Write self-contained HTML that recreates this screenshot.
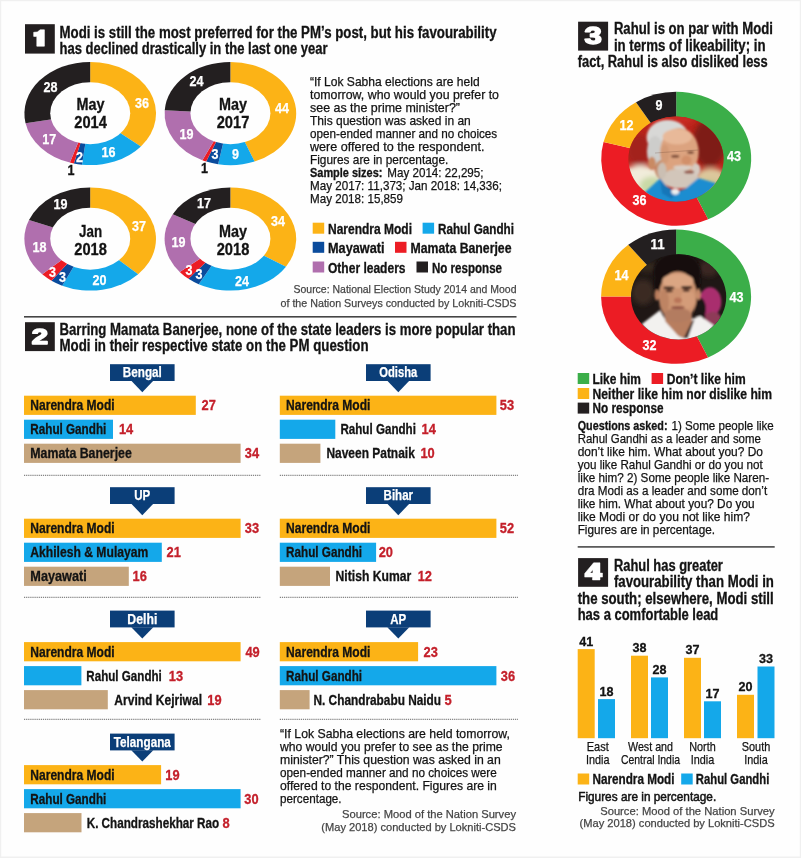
<!DOCTYPE html><html><head><meta charset="utf-8"><title>Mood of the Nation</title>
<style>html,body{margin:0;padding:0;background:#fefefe}svg{display:block;will-change:transform}text{font-family:"Liberation Sans",sans-serif}</style></head><body>
<svg width="801" height="858" viewBox="0 0 801 858">
<rect x="0.0" y="0.0" width="801.0" height="858.0" fill="#f0f0f0"/>
<rect x="1.2" y="1.2" width="798.6" height="855.3" fill="#fefefe"/>
<rect x="25.0" y="24.2" width="29.8" height="29.4" fill="#231F20"/>
<polygon points="33.7,32.3 37.3,32.0 40.2,29.8 44.4,29.8 44.4,46.2 36.8,46.2 36.8,36.4 33.7,36.4" fill="#fff" stroke="#fff" stroke-width="0.6" stroke-linejoin="round"/>
<text x="59.5" y="37.7" font-size="15.6" fill="#131313" font-weight="bold" stroke="#131313" stroke-width="0.3" textLength="437.0" lengthAdjust="spacingAndGlyphs">Modi is still the most preferred for the PM’s post, but his favourability</text>
<text x="59.5" y="53.5" font-size="15.6" fill="#131313" font-weight="bold" stroke="#131313" stroke-width="0.3" textLength="268.0" lengthAdjust="spacingAndGlyphs">has declined drastically in the last one year</text>
<g transform="translate(90.2,113.5) scale(65.80,51.60)">
<path d="M0 0L0.0000 -1.0000A1 1 0 0 1 0.7705 0.6374Z" fill="#FCB316"/>
<path d="M0 0L0.7705 0.6374A1 1 0 0 1 -0.1253 0.9921Z" fill="#14A8EA"/>
<path d="M0 0L-0.1253 0.9921A1 1 0 0 1 -0.2487 0.9686Z" fill="#0A4B9C"/>
<path d="M0 0L-0.2487 0.9686A1 1 0 0 1 -0.3090 0.9511Z" fill="#EC1C24"/>
<path d="M0 0L-0.3090 0.9511A1 1 0 0 1 -0.9823 0.1874Z" fill="#B06FAE"/>
<path d="M0 0L-0.9823 0.1874A1 1 0 0 1 -0.0000 -1.0000Z" fill="#231F20"/>
</g>
<ellipse cx="90.2" cy="113.2" rx="40" ry="31" fill="#fefefe"/>
<g transform="translate(230.4,113.5) scale(65.80,51.60)">
<path d="M0 0L0.0000 -1.0000A1 1 0 0 1 0.3681 0.9298Z" fill="#FCB316"/>
<path d="M0 0L0.3681 0.9298A1 1 0 0 1 -0.1874 0.9823Z" fill="#14A8EA"/>
<path d="M0 0L-0.1874 0.9823A1 1 0 0 1 -0.3681 0.9298Z" fill="#0A4B9C"/>
<path d="M0 0L-0.3681 0.9298A1 1 0 0 1 -0.4258 0.9048Z" fill="#EC1C24"/>
<path d="M0 0L-0.4258 0.9048A1 1 0 0 1 -0.9980 -0.0628Z" fill="#B06FAE"/>
<path d="M0 0L-0.9980 -0.0628A1 1 0 0 1 -0.0000 -1.0000Z" fill="#231F20"/>
</g>
<ellipse cx="230.4" cy="113.2" rx="40" ry="31" fill="#fefefe"/>
<g transform="translate(90.2,239.0) scale(65.80,51.60)">
<path d="M0 0L0.0000 -1.0000A1 1 0 0 1 0.7290 0.6845Z" fill="#FCB316"/>
<path d="M0 0L0.7290 0.6845A1 1 0 0 1 -0.4258 0.9048Z" fill="#14A8EA"/>
<path d="M0 0L-0.4258 0.9048A1 1 0 0 1 -0.5878 0.8090Z" fill="#0A4B9C"/>
<path d="M0 0L-0.5878 0.8090A1 1 0 0 1 -0.7290 0.6845Z" fill="#EC1C24"/>
<path d="M0 0L-0.7290 0.6845A1 1 0 0 1 -0.9298 -0.3681Z" fill="#B06FAE"/>
<path d="M0 0L-0.9298 -0.3681A1 1 0 0 1 -0.0000 -1.0000Z" fill="#231F20"/>
</g>
<ellipse cx="90.2" cy="238.7" rx="40" ry="31" fill="#fefefe"/>
<g transform="translate(230.4,239.0) scale(65.80,51.60)">
<path d="M0 0L0.0000 -1.0000A1 1 0 0 1 0.8443 0.5358Z" fill="#FCB316"/>
<path d="M0 0L0.8443 0.5358A1 1 0 0 1 -0.4818 0.8763Z" fill="#14A8EA"/>
<path d="M0 0L-0.4818 0.8763A1 1 0 0 1 -0.6374 0.7705Z" fill="#0A4B9C"/>
<path d="M0 0L-0.6374 0.7705A1 1 0 0 1 -0.7705 0.6374Z" fill="#EC1C24"/>
<path d="M0 0L-0.7705 0.6374A1 1 0 0 1 -0.8763 -0.4818Z" fill="#B06FAE"/>
<path d="M0 0L-0.8763 -0.4818A1 1 0 0 1 -0.0000 -1.0000Z" fill="#231F20"/>
</g>
<ellipse cx="230.4" cy="238.7" rx="40" ry="31" fill="#fefefe"/>
<text x="50.6" y="91.7" font-size="13.9" fill="#fff" font-weight="bold" stroke="#fff" stroke-width="0.25" text-anchor="middle" textLength="14.0" lengthAdjust="spacingAndGlyphs">28</text>
<text x="142.0" y="108.3" font-size="13.9" fill="#fff" font-weight="bold" stroke="#fff" stroke-width="0.25" text-anchor="middle" textLength="14.0" lengthAdjust="spacingAndGlyphs">36</text>
<text x="108.4" y="156.7" font-size="13.9" fill="#fff" font-weight="bold" stroke="#fff" stroke-width="0.25" text-anchor="middle" textLength="14.0" lengthAdjust="spacingAndGlyphs">16</text>
<text x="79.6" y="161.7" font-size="13.9" fill="#fff" font-weight="bold" stroke="#fff" stroke-width="0.25" text-anchor="middle" textLength="7.0" lengthAdjust="spacingAndGlyphs">2</text>
<text x="71.0" y="175.3" font-size="13.9" fill="#131313" font-weight="bold" stroke="#131313" stroke-width="0.3" text-anchor="middle" textLength="7.0" lengthAdjust="spacingAndGlyphs">1</text>
<text x="49.2" y="143.7" font-size="13.9" fill="#fff" font-weight="bold" stroke="#fff" stroke-width="0.25" text-anchor="middle" textLength="14.0" lengthAdjust="spacingAndGlyphs">17</text>
<text x="196.4" y="86.3" font-size="13.9" fill="#fff" font-weight="bold" stroke="#fff" stroke-width="0.25" text-anchor="middle" textLength="14.0" lengthAdjust="spacingAndGlyphs">24</text>
<text x="282.0" y="112.7" font-size="13.9" fill="#fff" font-weight="bold" stroke="#fff" stroke-width="0.25" text-anchor="middle" textLength="14.0" lengthAdjust="spacingAndGlyphs">44</text>
<text x="235.6" y="159.1" font-size="13.9" fill="#fff" font-weight="bold" stroke="#fff" stroke-width="0.25" text-anchor="middle" textLength="7.0" lengthAdjust="spacingAndGlyphs">9</text>
<text x="215.0" y="159.1" font-size="13.9" fill="#fff" font-weight="bold" stroke="#fff" stroke-width="0.25" text-anchor="middle" textLength="7.0" lengthAdjust="spacingAndGlyphs">3</text>
<text x="204.4" y="173.1" font-size="13.9" fill="#131313" font-weight="bold" stroke="#131313" stroke-width="0.3" text-anchor="middle" textLength="7.0" lengthAdjust="spacingAndGlyphs">1</text>
<text x="186.6" y="139.1" font-size="13.9" fill="#fff" font-weight="bold" stroke="#fff" stroke-width="0.25" text-anchor="middle" textLength="14.0" lengthAdjust="spacingAndGlyphs">19</text>
<text x="60.4" y="209.3" font-size="13.9" fill="#fff" font-weight="bold" stroke="#fff" stroke-width="0.25" text-anchor="middle" textLength="14.0" lengthAdjust="spacingAndGlyphs">19</text>
<text x="139.0" y="231.3" font-size="13.9" fill="#fff" font-weight="bold" stroke="#fff" stroke-width="0.25" text-anchor="middle" textLength="14.0" lengthAdjust="spacingAndGlyphs">37</text>
<text x="99.6" y="285.3" font-size="13.9" fill="#fff" font-weight="bold" stroke="#fff" stroke-width="0.25" text-anchor="middle" textLength="14.0" lengthAdjust="spacingAndGlyphs">20</text>
<text x="62.4" y="281.7" font-size="13.9" fill="#fff" font-weight="bold" stroke="#fff" stroke-width="0.25" text-anchor="middle" textLength="7.0" lengthAdjust="spacingAndGlyphs">3</text>
<text x="52.6" y="277.1" font-size="13.9" fill="#fff" font-weight="bold" stroke="#fff" stroke-width="0.25" text-anchor="middle" textLength="7.0" lengthAdjust="spacingAndGlyphs">3</text>
<text x="39.6" y="252.1" font-size="13.9" fill="#fff" font-weight="bold" stroke="#fff" stroke-width="0.25" text-anchor="middle" textLength="14.0" lengthAdjust="spacingAndGlyphs">18</text>
<text x="204.0" y="207.7" font-size="13.9" fill="#fff" font-weight="bold" stroke="#fff" stroke-width="0.25" text-anchor="middle" textLength="14.0" lengthAdjust="spacingAndGlyphs">17</text>
<text x="278.0" y="226.3" font-size="13.9" fill="#fff" font-weight="bold" stroke="#fff" stroke-width="0.25" text-anchor="middle" textLength="14.0" lengthAdjust="spacingAndGlyphs">34</text>
<text x="242.0" y="285.7" font-size="13.9" fill="#fff" font-weight="bold" stroke="#fff" stroke-width="0.25" text-anchor="middle" textLength="14.0" lengthAdjust="spacingAndGlyphs">24</text>
<text x="199.0" y="279.1" font-size="13.9" fill="#fff" font-weight="bold" stroke="#fff" stroke-width="0.25" text-anchor="middle" textLength="7.0" lengthAdjust="spacingAndGlyphs">3</text>
<text x="189.0" y="275.1" font-size="13.9" fill="#fff" font-weight="bold" stroke="#fff" stroke-width="0.25" text-anchor="middle" textLength="7.0" lengthAdjust="spacingAndGlyphs">3</text>
<text x="178.6" y="247.3" font-size="13.9" fill="#fff" font-weight="bold" stroke="#fff" stroke-width="0.25" text-anchor="middle" textLength="14.0" lengthAdjust="spacingAndGlyphs">19</text>
<text x="90.6" y="110.0" font-size="16" fill="#131313" font-weight="bold" stroke="#131313" stroke-width="0.3" text-anchor="middle" textLength="28.0" lengthAdjust="spacingAndGlyphs">May</text>
<text x="90.6" y="128.0" font-size="16" fill="#131313" font-weight="bold" stroke="#131313" stroke-width="0.3" text-anchor="middle" textLength="32.6" lengthAdjust="spacingAndGlyphs">2014</text>
<text x="233.0" y="110.0" font-size="16" fill="#131313" font-weight="bold" stroke="#131313" stroke-width="0.3" text-anchor="middle" textLength="28.0" lengthAdjust="spacingAndGlyphs">May</text>
<text x="233.0" y="128.0" font-size="16" fill="#131313" font-weight="bold" stroke="#131313" stroke-width="0.3" text-anchor="middle" textLength="32.6" lengthAdjust="spacingAndGlyphs">2017</text>
<text x="90.6" y="237.2" font-size="16" fill="#131313" font-weight="bold" stroke="#131313" stroke-width="0.3" text-anchor="middle" textLength="23.0" lengthAdjust="spacingAndGlyphs">Jan</text>
<text x="90.6" y="255.2" font-size="16" fill="#131313" font-weight="bold" stroke="#131313" stroke-width="0.3" text-anchor="middle" textLength="32.6" lengthAdjust="spacingAndGlyphs">2018</text>
<text x="233.0" y="237.2" font-size="16" fill="#131313" font-weight="bold" stroke="#131313" stroke-width="0.3" text-anchor="middle" textLength="28.0" lengthAdjust="spacingAndGlyphs">May</text>
<text x="233.0" y="255.2" font-size="16" fill="#131313" font-weight="bold" stroke="#131313" stroke-width="0.3" text-anchor="middle" textLength="32.6" lengthAdjust="spacingAndGlyphs">2018</text>
<text x="310.0" y="85.6" font-size="12.6" fill="#131313" stroke="#131313" stroke-width="0.25" textLength="169.6" lengthAdjust="spacingAndGlyphs">“If Lok Sabha elections are held</text>
<text x="310.0" y="98.6" font-size="12.6" fill="#131313" stroke="#131313" stroke-width="0.25" textLength="189.0" lengthAdjust="spacingAndGlyphs">tomorrow, who would you prefer to</text>
<text x="310.0" y="111.7" font-size="12.6" fill="#131313" stroke="#131313" stroke-width="0.25" textLength="150.0" lengthAdjust="spacingAndGlyphs">see as the prime minister?”</text>
<text x="310.0" y="124.8" font-size="12.6" fill="#131313" stroke="#131313" stroke-width="0.25" textLength="160.8" lengthAdjust="spacingAndGlyphs">This question was asked in an</text>
<text x="310.0" y="137.8" font-size="12.6" fill="#131313" stroke="#131313" stroke-width="0.25" textLength="187.2" lengthAdjust="spacingAndGlyphs">open-ended manner and no choices</text>
<text x="310.0" y="150.8" font-size="12.6" fill="#131313" stroke="#131313" stroke-width="0.25" textLength="174.6" lengthAdjust="spacingAndGlyphs">were offered to the respondent.</text>
<text x="310.0" y="163.9" font-size="12.6" fill="#131313" stroke="#131313" stroke-width="0.25" textLength="138.3" lengthAdjust="spacingAndGlyphs">Figures are in percentage.</text>
<text x="310.0" y="177.0" font-size="12.6" fill="#131313" font-weight="bold" stroke="#131313" stroke-width="0.3" textLength="72.4" lengthAdjust="spacingAndGlyphs">Sample sizes:</text>
<text x="387.3" y="177.0" font-size="12.6" fill="#131313" stroke="#131313" stroke-width="0.25" textLength="96.2" lengthAdjust="spacingAndGlyphs">May 2014: 22,295;</text>
<text x="310.0" y="190.0" font-size="12.6" fill="#131313" stroke="#131313" stroke-width="0.25" textLength="192.0" lengthAdjust="spacingAndGlyphs">May 2017: 11,373; Jan 2018: 14,336;</text>
<text x="310.0" y="203.1" font-size="12.6" fill="#131313" stroke="#131313" stroke-width="0.25" textLength="93.0" lengthAdjust="spacingAndGlyphs">May 2018: 15,859</text>
<rect x="312.7" y="222.7" width="11.5" height="11.0" fill="#FCB316"/>
<text x="328.0" y="233.8" font-size="13.8" fill="#131313" font-weight="bold" stroke="#131313" stroke-width="0.3" textLength="84.0" lengthAdjust="spacingAndGlyphs">Narendra Modi</text>
<rect x="422.6" y="222.7" width="11.5" height="11.0" fill="#14A8EA"/>
<text x="438.0" y="233.8" font-size="13.8" fill="#131313" font-weight="bold" stroke="#131313" stroke-width="0.3" textLength="76.0" lengthAdjust="spacingAndGlyphs">Rahul Gandhi</text>
<rect x="312.7" y="241.8" width="11.5" height="11.0" fill="#0A4B9C"/>
<text x="328.0" y="252.9" font-size="13.8" fill="#131313" font-weight="bold" stroke="#131313" stroke-width="0.3" textLength="56.5" lengthAdjust="spacingAndGlyphs">Mayawati</text>
<rect x="395.0" y="241.8" width="11.5" height="11.0" fill="#EC1C24"/>
<text x="410.5" y="252.9" font-size="13.8" fill="#131313" font-weight="bold" stroke="#131313" stroke-width="0.3" textLength="101.0" lengthAdjust="spacingAndGlyphs">Mamata Banerjee</text>
<rect x="312.7" y="261.5" width="11.5" height="11.0" fill="#B06FAE"/>
<text x="328.0" y="272.6" font-size="13.8" fill="#131313" font-weight="bold" stroke="#131313" stroke-width="0.3" textLength="77.5" lengthAdjust="spacingAndGlyphs">Other leaders</text>
<rect x="416.5" y="261.5" width="11.5" height="11.0" fill="#231F20"/>
<text x="432.0" y="272.6" font-size="13.8" fill="#131313" font-weight="bold" stroke="#131313" stroke-width="0.3" textLength="70.0" lengthAdjust="spacingAndGlyphs">No response</text>
<text x="516.5" y="293.0" font-size="11.6" fill="#454545" stroke="#454545" stroke-width="0.25" text-anchor="end" textLength="223.0" lengthAdjust="spacingAndGlyphs">Source: National Election Study 2014 and Mood</text>
<text x="516.5" y="306.5" font-size="11.6" fill="#454545" stroke="#454545" stroke-width="0.25" text-anchor="end" textLength="236.0" lengthAdjust="spacingAndGlyphs">of the Nation Surveys conducted by Lokniti-CSDS</text>
<rect x="24.0" y="316.0" width="492.5" height="1.6" fill="#454545"/>
<rect x="25.0" y="322.2" width="29.8" height="28.9" fill="#231F20"/>
<text x="39.9" y="343.9" font-size="21.3" fill="#fff" font-weight="bold" text-anchor="middle" textLength="16.3" lengthAdjust="spacingAndGlyphs" stroke="#fff" stroke-width="1.5" stroke-linejoin="round">2</text>
<text x="59.5" y="334.6" font-size="15.6" fill="#131313" font-weight="bold" stroke="#131313" stroke-width="0.3" textLength="456.0" lengthAdjust="spacingAndGlyphs">Barring Mamata Banerjee, none of the state leaders is more popular than</text>
<text x="59.5" y="350.8" font-size="15.6" fill="#131313" font-weight="bold" stroke="#131313" stroke-width="0.3" textLength="309.0" lengthAdjust="spacingAndGlyphs">Modi in their respective state on the PM question</text>
<rect x="110.0" y="364.2" width="64.6" height="16.8" fill="#0B3E78"/>
<path d="M131.3 380.8L153.3 380.8L142.3 392.2Z" fill="#0B3E78"/>
<text x="142.3" y="377.1" font-size="14.2" fill="#fff" font-weight="bold" stroke="#fff" stroke-width="0.25" text-anchor="middle" textLength="39.0" lengthAdjust="spacingAndGlyphs">Bengal</text>
<rect x="24.0" y="395.7" width="171.8" height="19.2" fill="#FCB316"/>
<text x="30.3" y="410.2" font-size="14.2" fill="#131313" font-weight="bold" stroke="#131313" stroke-width="0.3" textLength="84.3" lengthAdjust="spacingAndGlyphs">Narendra Modi</text>
<text x="201.6" y="410.4" font-size="14.8" fill="#C4202B" font-weight="bold" stroke="#C4202B" stroke-width="0.3" textLength="14.3" lengthAdjust="spacingAndGlyphs">27</text>
<rect x="24.0" y="419.7" width="89.0" height="19.2" fill="#14A8EA"/>
<text x="30.3" y="434.2" font-size="14.2" fill="#131313" font-weight="bold" stroke="#131313" stroke-width="0.3" textLength="76.0" lengthAdjust="spacingAndGlyphs">Rahul Gandhi</text>
<text x="118.9" y="434.4" font-size="14.8" fill="#C4202B" font-weight="bold" stroke="#C4202B" stroke-width="0.3" textLength="14.3" lengthAdjust="spacingAndGlyphs">14</text>
<rect x="24.0" y="443.7" width="216.6" height="19.2" fill="#C5A47C"/>
<text x="30.3" y="458.2" font-size="14.2" fill="#131313" font-weight="bold" stroke="#131313" stroke-width="0.3" textLength="101.5" lengthAdjust="spacingAndGlyphs">Mamata Banerjee</text>
<text x="244.8" y="458.4" font-size="14.8" fill="#C4202B" font-weight="bold" stroke="#C4202B" stroke-width="0.3" textLength="14.3" lengthAdjust="spacingAndGlyphs">34</text>
<rect x="110.0" y="487.2" width="64.6" height="16.8" fill="#0B3E78"/>
<path d="M131.3 503.8L153.3 503.8L142.3 515.2Z" fill="#0B3E78"/>
<text x="142.3" y="500.1" font-size="14.2" fill="#fff" font-weight="bold" stroke="#fff" stroke-width="0.25" text-anchor="middle" textLength="16.0" lengthAdjust="spacingAndGlyphs">UP</text>
<rect x="24.0" y="518.7" width="216.6" height="19.2" fill="#FCB316"/>
<text x="30.3" y="533.2" font-size="14.2" fill="#131313" font-weight="bold" stroke="#131313" stroke-width="0.3" textLength="84.3" lengthAdjust="spacingAndGlyphs">Narendra Modi</text>
<text x="244.8" y="533.4" font-size="14.8" fill="#C4202B" font-weight="bold" stroke="#C4202B" stroke-width="0.3" textLength="14.3" lengthAdjust="spacingAndGlyphs">33</text>
<rect x="24.0" y="542.7" width="137.8" height="19.2" fill="#14A8EA"/>
<text x="30.3" y="557.2" font-size="14.2" fill="#131313" font-weight="bold" stroke="#131313" stroke-width="0.3" textLength="118.0" lengthAdjust="spacingAndGlyphs">Akhilesh &amp; Mulayam</text>
<text x="166.6" y="557.4" font-size="14.8" fill="#C4202B" font-weight="bold" stroke="#C4202B" stroke-width="0.3" textLength="14.3" lengthAdjust="spacingAndGlyphs">21</text>
<rect x="24.0" y="566.7" width="104.8" height="19.2" fill="#C5A47C"/>
<text x="30.3" y="581.2" font-size="14.2" fill="#131313" font-weight="bold" stroke="#131313" stroke-width="0.3" textLength="56.5" lengthAdjust="spacingAndGlyphs">Mayawati</text>
<text x="132.5" y="581.4" font-size="14.8" fill="#C4202B" font-weight="bold" stroke="#C4202B" stroke-width="0.3" textLength="14.3" lengthAdjust="spacingAndGlyphs">16</text>
<rect x="110.0" y="610.6" width="64.6" height="16.8" fill="#0B3E78"/>
<path d="M131.3 627.2L153.3 627.2L142.3 638.6Z" fill="#0B3E78"/>
<text x="142.3" y="623.5" font-size="14.2" fill="#fff" font-weight="bold" stroke="#fff" stroke-width="0.25" text-anchor="middle" textLength="30.0" lengthAdjust="spacingAndGlyphs">Delhi</text>
<rect x="24.0" y="642.1" width="216.6" height="19.2" fill="#FCB316"/>
<text x="30.3" y="656.6" font-size="14.2" fill="#131313" font-weight="bold" stroke="#131313" stroke-width="0.3" textLength="84.3" lengthAdjust="spacingAndGlyphs">Narendra Modi</text>
<text x="245.4" y="656.8" font-size="14.8" fill="#C4202B" font-weight="bold" stroke="#C4202B" stroke-width="0.3" textLength="14.3" lengthAdjust="spacingAndGlyphs">49</text>
<rect x="24.0" y="666.1" width="57.4" height="19.2" fill="#14A8EA"/>
<text x="86.3" y="680.6" font-size="14.2" fill="#131313" font-weight="bold" stroke="#131313" stroke-width="0.3" textLength="75.5" lengthAdjust="spacingAndGlyphs">Rahul Gandhi</text>
<text x="168.8" y="680.8" font-size="14.8" fill="#C4202B" font-weight="bold" stroke="#C4202B" stroke-width="0.3" textLength="14.3" lengthAdjust="spacingAndGlyphs">13</text>
<rect x="24.0" y="690.1" width="83.8" height="19.2" fill="#C5A47C"/>
<text x="114.3" y="704.6" font-size="14.2" fill="#131313" font-weight="bold" stroke="#131313" stroke-width="0.3" textLength="87.7" lengthAdjust="spacingAndGlyphs">Arvind Kejriwal</text>
<text x="207.3" y="704.8" font-size="14.8" fill="#C4202B" font-weight="bold" stroke="#C4202B" stroke-width="0.3" textLength="14.3" lengthAdjust="spacingAndGlyphs">19</text>
<rect x="110.0" y="733.6" width="64.6" height="16.8" fill="#0B3E78"/>
<path d="M131.3 750.2L153.3 750.2L142.3 761.6Z" fill="#0B3E78"/>
<text x="142.3" y="746.5" font-size="14.2" fill="#fff" font-weight="bold" stroke="#fff" stroke-width="0.25" text-anchor="middle" textLength="57.0" lengthAdjust="spacingAndGlyphs">Telangana</text>
<rect x="24.0" y="765.1" width="137.1" height="19.2" fill="#FCB316"/>
<text x="30.3" y="779.6" font-size="14.2" fill="#131313" font-weight="bold" stroke="#131313" stroke-width="0.3" textLength="84.3" lengthAdjust="spacingAndGlyphs">Narendra Modi</text>
<text x="165.3" y="779.8" font-size="14.8" fill="#C4202B" font-weight="bold" stroke="#C4202B" stroke-width="0.3" textLength="14.3" lengthAdjust="spacingAndGlyphs">19</text>
<rect x="24.0" y="789.1" width="216.6" height="19.2" fill="#14A8EA"/>
<text x="30.3" y="803.6" font-size="14.2" fill="#131313" font-weight="bold" stroke="#131313" stroke-width="0.3" textLength="76.0" lengthAdjust="spacingAndGlyphs">Rahul Gandhi</text>
<text x="244.3" y="803.8" font-size="14.8" fill="#C4202B" font-weight="bold" stroke="#C4202B" stroke-width="0.3" textLength="14.3" lengthAdjust="spacingAndGlyphs">30</text>
<rect x="24.0" y="813.1" width="57.5" height="19.2" fill="#C5A47C"/>
<text x="86.7" y="827.6" font-size="14.2" fill="#131313" font-weight="bold" stroke="#131313" stroke-width="0.3" textLength="132.5" lengthAdjust="spacingAndGlyphs">K. Chandrashekhar Rao</text>
<text x="222.6" y="827.8" font-size="14.8" fill="#C4202B" font-weight="bold" stroke="#C4202B" stroke-width="0.3" textLength="7.2" lengthAdjust="spacingAndGlyphs">8</text>
<rect x="366.0" y="364.2" width="64.6" height="16.8" fill="#0B3E78"/>
<path d="M387.3 380.8L409.3 380.8L398.3 392.2Z" fill="#0B3E78"/>
<text x="398.3" y="377.1" font-size="14.2" fill="#fff" font-weight="bold" stroke="#fff" stroke-width="0.25" text-anchor="middle" textLength="38.0" lengthAdjust="spacingAndGlyphs">Odisha</text>
<rect x="279.8" y="395.7" width="216.6" height="19.2" fill="#FCB316"/>
<text x="286.1" y="410.2" font-size="14.2" fill="#131313" font-weight="bold" stroke="#131313" stroke-width="0.3" textLength="84.3" lengthAdjust="spacingAndGlyphs">Narendra Modi</text>
<text x="499.8" y="410.4" font-size="14.8" fill="#C4202B" font-weight="bold" stroke="#C4202B" stroke-width="0.3" textLength="14.3" lengthAdjust="spacingAndGlyphs">53</text>
<rect x="279.8" y="419.7" width="55.5" height="19.2" fill="#14A8EA"/>
<text x="340.4" y="434.2" font-size="14.2" fill="#131313" font-weight="bold" stroke="#131313" stroke-width="0.3" textLength="75.5" lengthAdjust="spacingAndGlyphs">Rahul Gandhi</text>
<text x="421.5" y="434.4" font-size="14.8" fill="#C4202B" font-weight="bold" stroke="#C4202B" stroke-width="0.3" textLength="14.3" lengthAdjust="spacingAndGlyphs">14</text>
<rect x="279.8" y="443.7" width="40.6" height="19.2" fill="#C5A47C"/>
<text x="326.4" y="458.2" font-size="14.2" fill="#131313" font-weight="bold" stroke="#131313" stroke-width="0.3" textLength="88.4" lengthAdjust="spacingAndGlyphs">Naveen Patnaik</text>
<text x="420.4" y="458.4" font-size="14.8" fill="#C4202B" font-weight="bold" stroke="#C4202B" stroke-width="0.3" textLength="14.3" lengthAdjust="spacingAndGlyphs">10</text>
<rect x="366.0" y="487.2" width="64.6" height="16.8" fill="#0B3E78"/>
<path d="M387.3 503.8L409.3 503.8L398.3 515.2Z" fill="#0B3E78"/>
<text x="398.3" y="500.1" font-size="14.2" fill="#fff" font-weight="bold" stroke="#fff" stroke-width="0.25" text-anchor="middle" textLength="29.5" lengthAdjust="spacingAndGlyphs">Bihar</text>
<rect x="279.8" y="518.7" width="216.6" height="19.2" fill="#FCB316"/>
<text x="286.1" y="533.2" font-size="14.2" fill="#131313" font-weight="bold" stroke="#131313" stroke-width="0.3" textLength="84.3" lengthAdjust="spacingAndGlyphs">Narendra Modi</text>
<text x="499.8" y="533.4" font-size="14.8" fill="#C4202B" font-weight="bold" stroke="#C4202B" stroke-width="0.3" textLength="14.3" lengthAdjust="spacingAndGlyphs">52</text>
<rect x="279.8" y="542.7" width="96.3" height="19.2" fill="#14A8EA"/>
<text x="286.1" y="557.2" font-size="14.2" fill="#131313" font-weight="bold" stroke="#131313" stroke-width="0.3" textLength="76.0" lengthAdjust="spacingAndGlyphs">Rahul Gandhi</text>
<text x="378.7" y="557.4" font-size="14.8" fill="#C4202B" font-weight="bold" stroke="#C4202B" stroke-width="0.3" textLength="14.3" lengthAdjust="spacingAndGlyphs">20</text>
<rect x="279.8" y="566.7" width="50.2" height="19.2" fill="#C5A47C"/>
<text x="335.6" y="581.2" font-size="14.2" fill="#131313" font-weight="bold" stroke="#131313" stroke-width="0.3" textLength="75.6" lengthAdjust="spacingAndGlyphs">Nitish Kumar</text>
<text x="417.7" y="581.4" font-size="14.8" fill="#C4202B" font-weight="bold" stroke="#C4202B" stroke-width="0.3" textLength="14.3" lengthAdjust="spacingAndGlyphs">12</text>
<rect x="366.0" y="610.6" width="64.6" height="16.8" fill="#0B3E78"/>
<path d="M387.3 627.2L409.3 627.2L398.3 638.6Z" fill="#0B3E78"/>
<text x="398.3" y="623.5" font-size="14.2" fill="#fff" font-weight="bold" stroke="#fff" stroke-width="0.25" text-anchor="middle" textLength="16.0" lengthAdjust="spacingAndGlyphs">AP</text>
<rect x="279.8" y="642.1" width="138.3" height="19.2" fill="#FCB316"/>
<text x="286.1" y="656.6" font-size="14.2" fill="#131313" font-weight="bold" stroke="#131313" stroke-width="0.3" textLength="84.3" lengthAdjust="spacingAndGlyphs">Narendra Modi</text>
<text x="423.6" y="656.8" font-size="14.8" fill="#C4202B" font-weight="bold" stroke="#C4202B" stroke-width="0.3" textLength="14.3" lengthAdjust="spacingAndGlyphs">23</text>
<rect x="279.8" y="666.1" width="216.6" height="19.2" fill="#14A8EA"/>
<text x="286.1" y="680.6" font-size="14.2" fill="#131313" font-weight="bold" stroke="#131313" stroke-width="0.3" textLength="76.0" lengthAdjust="spacingAndGlyphs">Rahul Gandhi</text>
<text x="500.8" y="680.8" font-size="14.8" fill="#C4202B" font-weight="bold" stroke="#C4202B" stroke-width="0.3" textLength="14.3" lengthAdjust="spacingAndGlyphs">36</text>
<rect x="279.8" y="690.1" width="29.8" height="19.2" fill="#C5A47C"/>
<text x="313.5" y="704.6" font-size="14.2" fill="#131313" font-weight="bold" stroke="#131313" stroke-width="0.3" textLength="127.5" lengthAdjust="spacingAndGlyphs">N. Chandrababu Naidu</text>
<text x="444.5" y="704.8" font-size="14.8" fill="#C4202B" font-weight="bold" stroke="#C4202B" stroke-width="0.3" textLength="7.2" lengthAdjust="spacingAndGlyphs">5</text>
<line x1="24" y1="475.3" x2="261" y2="475.3" stroke="#555" stroke-width="0.9" stroke-dasharray="1.2 0.9"/>
<line x1="279.8" y1="475.3" x2="518" y2="475.3" stroke="#555" stroke-width="0.9" stroke-dasharray="1.2 0.9"/>
<line x1="24" y1="597.3" x2="261" y2="597.3" stroke="#555" stroke-width="0.9" stroke-dasharray="1.2 0.9"/>
<line x1="279.8" y1="597.3" x2="518" y2="597.3" stroke="#555" stroke-width="0.9" stroke-dasharray="1.2 0.9"/>
<line x1="24" y1="719.3" x2="261" y2="719.3" stroke="#555" stroke-width="0.9" stroke-dasharray="1.2 0.9"/>
<line x1="279.8" y1="719.3" x2="518" y2="719.3" stroke="#555" stroke-width="0.9" stroke-dasharray="1.2 0.9"/>
<text x="280.0" y="737.5" font-size="12.6" fill="#131313" stroke="#131313" stroke-width="0.25" textLength="229.8" lengthAdjust="spacingAndGlyphs">“If Lok Sabha elections are held tomorrow,</text>
<text x="280.0" y="750.6" font-size="12.6" fill="#131313" stroke="#131313" stroke-width="0.25" textLength="222.6" lengthAdjust="spacingAndGlyphs">who would you prefer to see as the prime</text>
<text x="280.0" y="763.6" font-size="12.6" fill="#131313" stroke="#131313" stroke-width="0.25" textLength="220.7" lengthAdjust="spacingAndGlyphs">minister?” This question was asked in an</text>
<text x="280.0" y="776.6" font-size="12.6" fill="#131313" stroke="#131313" stroke-width="0.25" textLength="216.8" lengthAdjust="spacingAndGlyphs">open-ended manner and no choices were</text>
<text x="280.0" y="789.7" font-size="12.6" fill="#131313" stroke="#131313" stroke-width="0.25" textLength="216.8" lengthAdjust="spacingAndGlyphs">offered to the respondent. Figures are in</text>
<text x="280.0" y="802.7" font-size="12.6" fill="#131313" stroke="#131313" stroke-width="0.25" textLength="61.6" lengthAdjust="spacingAndGlyphs">percentage.</text>
<text x="516.0" y="818.0" font-size="11.6" fill="#454545" stroke="#454545" stroke-width="0.25" text-anchor="end" textLength="174.0" lengthAdjust="spacingAndGlyphs">Source: Mood of the Nation Survey</text>
<text x="516.0" y="831.0" font-size="11.6" fill="#454545" stroke="#454545" stroke-width="0.25" text-anchor="end" textLength="194.7" lengthAdjust="spacingAndGlyphs">(May 2018) conducted by Lokniti-CSDS</text>
<rect x="578.1" y="21.7" width="30.0" height="28.9" fill="#231F20"/>
<text x="593.1" y="43.8" font-size="23" fill="#fff" font-weight="bold" text-anchor="middle" textLength="17.3" lengthAdjust="spacingAndGlyphs" stroke="#fff" stroke-width="1.5" stroke-linejoin="round">3</text>
<text x="613.9" y="34.3" font-size="15.6" fill="#131313" font-weight="bold" stroke="#131313" stroke-width="0.3" textLength="159.0" lengthAdjust="spacingAndGlyphs">Rahul is on par with Modi</text>
<text x="613.9" y="50.7" font-size="15.6" fill="#131313" font-weight="bold" stroke="#131313" stroke-width="0.3" textLength="151.6" lengthAdjust="spacingAndGlyphs">in terms of likeability; in</text>
<text x="577.7" y="67.2" font-size="15.6" fill="#131313" font-weight="bold" stroke="#131313" stroke-width="0.3" textLength="190.0" lengthAdjust="spacingAndGlyphs">fact, Rahul is also disliked less</text>
<g transform="translate(676.2,158.7) scale(75.00,67.00)">
<path d="M0 0L0.0000 -1.0000A1 1 0 0 1 0.4258 0.9048Z" fill="#3BAE49"/>
<path d="M0 0L0.4258 0.9048A1 1 0 0 1 -0.9686 -0.2487Z" fill="#EC1C24"/>
<path d="M0 0L-0.9686 -0.2487A1 1 0 0 1 -0.5358 -0.8443Z" fill="#FCB316"/>
<path d="M0 0L-0.5358 -0.8443A1 1 0 0 1 -0.0000 -1.0000Z" fill="#231F20"/>
</g>
<g transform="translate(676.1,296.6) scale(75.00,67.20)">
<path d="M0 0L0.0000 -1.0000A1 1 0 0 1 0.4258 0.9048Z" fill="#3BAE49"/>
<path d="M0 0L0.4258 0.9048A1 1 0 0 1 -1.0000 0.0000Z" fill="#EC1C24"/>
<path d="M0 0L-1.0000 0.0000A1 1 0 0 1 -0.6374 -0.7705Z" fill="#FCB316"/>
<path d="M0 0L-0.6374 -0.7705A1 1 0 0 1 -0.0000 -1.0000Z" fill="#231F20"/>
</g>
<defs><clipPath id="cm"><ellipse cx="676" cy="159.1" rx="47.6" ry="42.6"/></clipPath><filter id="b1" x="-20%" y="-20%" width="140%" height="140%"><feGaussianBlur stdDeviation="1.1"/></filter><filter id="b2" x="-20%" y="-20%" width="140%" height="140%"><feGaussianBlur stdDeviation="2.5"/></filter><filter id="b0" x="-20%" y="-20%" width="140%" height="140%"><feGaussianBlur stdDeviation="0.5"/></filter></defs>
<g clip-path="url(#cm)">
<rect x="626" y="114" width="100" height="90" fill="#B9241B"/>
<g filter="url(#b2)">
<ellipse cx="709.5" cy="143.0" rx="16.8" ry="23.8" fill="#7E1A12"/>
<ellipse cx="639.6" cy="150.0" rx="12.6" ry="15.4" fill="#A3221A"/>
<ellipse cx="666.2" cy="119.2" rx="28.0" ry="7.0" fill="#C82A20"/>
<ellipse cx="641.0" cy="180.7" rx="23.8" ry="15.4" fill="#F1ECDA"/>
<ellipse cx="652.2" cy="186.3" rx="12.6" ry="9.8" fill="#C9D9A6"/>
<ellipse cx="710.9" cy="177.9" rx="15.4" ry="9.8" fill="#DCC79C"/>
<ellipse cx="709.5" cy="186.3" rx="12.6" ry="7.0" fill="#C9C58F"/>
</g>
<g filter="url(#b1)">
<ellipse cx="667.6" cy="137.4" rx="21.0" ry="17.5" fill="#D8D8D6"/>
<ellipse cx="655.0" cy="151.4" rx="8.1" ry="15.4" fill="#CDCDCB"/>
<ellipse cx="662.0" cy="169.5" rx="7.0" ry="9.8" fill="#C48A66"/>
<ellipse cx="651.9" cy="163.2" rx="3.9" ry="6.4" fill="#C98A63"/>
<ellipse cx="679.4" cy="152.1" rx="19.3" ry="24.1" fill="#DCA37F"/>
<ellipse cx="677.3" cy="136.7" rx="14.7" ry="7.7" fill="#E8B999"/>
<ellipse cx="664.8" cy="154.2" rx="4.2" ry="9.8" fill="#CF9672" opacity="0.7"/>
<ellipse cx="680.1" cy="178.6" rx="18.9" ry="9.8" fill="#D2C6BA"/>
<ellipse cx="662.0" cy="170.9" rx="4.5" ry="8.4" fill="#CBBFB3"/>
<ellipse cx="696.2" cy="169.5" rx="4.2" ry="6.3" fill="#D6CBC1"/>
<ellipse cx="682.9" cy="167.4" rx="9.8" ry="2.2" fill="#D9CFC6"/>
<ellipse cx="686.4" cy="160.4" rx="5.0" ry="4.8" fill="#D2906A"/>
<ellipse cx="689.2" cy="172.1" rx="5.0" ry="1.5" fill="#8E4A3C"/>
<ellipse cx="675.2" cy="156.3" rx="4.2" ry="1.5" fill="#7A4A36"/>
<ellipse cx="690.6" cy="152.5" rx="3.4" ry="1.4" fill="#7A4A36"/>
<polygon points="643.8,193.3 659.9,178.6 666.2,186.3 675.9,191.9 685.7,188.4 698.3,177.9 716.5,183.5 710.9,194.7 689.9,204.5 662.0,203.1" fill="#1E8DD0"/>
<polygon points="659.9,178.6 666.2,186.3 675.9,191.9 671.7,198.9 662.0,193.3" fill="#1576B8"/>
<ellipse cx="675.2" cy="191.6" rx="3.9" ry="3.1" fill="#EDEDED"/>
</g>
<line x1="655.0" y1="153.0" x2="698.3" y2="150.0" stroke="#6b4636" stroke-width="0.5" opacity="0.55"/>
</g>
<defs><clipPath id="cr"><ellipse cx="678.6" cy="296.9" rx="47.6" ry="42.6"/></clipPath></defs>
<g clip-path="url(#cr)">
<rect x="628" y="252" width="100" height="90" fill="#1F1715"/>
<g filter="url(#b2)">
<ellipse cx="643.0" cy="292.2" rx="11.2" ry="12.6" fill="#3A2A24"/>
<ellipse cx="708.7" cy="268.4" rx="9.8" ry="8.4" fill="#3A2620"/>
<ellipse cx="647.2" cy="267.0" rx="9.8" ry="5.6" fill="#33261f"/>
</g>
<g filter="url(#b1)">
<ellipse cx="710.1" cy="301.9" rx="11.2" ry="14.7" fill="#A92F6E"/>
<ellipse cx="712.9" cy="318.7" rx="8.4" ry="7.0" fill="#8E3A58"/>
<ellipse cx="700.3" cy="308.9" rx="5.6" ry="11.2" fill="#1F1715"/>
<polygon points="641.6,324.3 659.8,310.3 668.2,324.3 680.7,336.9 691.9,318.7 700.3,315.9 714.3,325.7 700.3,342.5 657.0,342.5" fill="#F2F1EF"/>
<polygon points="664.0,311.7 691.9,311.7 691.9,324.3 683.5,338.3 677.9,335.5 665.4,321.5" fill="#B87E5E"/>
<polygon points="683.5,338.3 691.9,321.5 694.7,318.7 687.7,338.3" fill="#3a2a26"/>
<ellipse cx="677.2" cy="271.9" rx="23.5" ry="18.9" fill="#17110F"/>
<ellipse cx="658.1" cy="283.8" rx="4.2" ry="10.5" fill="#17110F"/>
<ellipse cx="697.2" cy="281.0" rx="3.4" ry="10.5" fill="#17110F"/>
<ellipse cx="657.0" cy="295.0" rx="2.5" ry="5.6" fill="#B97C5C"/>
<ellipse cx="698.5" cy="294.3" rx="2.2" ry="5.6" fill="#C98C6A"/>
<ellipse cx="677.9" cy="296.3" rx="19.0" ry="24.9" fill="#CD9471"/>
<ellipse cx="677.9" cy="281.0" rx="15.7" ry="7.3" fill="#DBA683"/>
<ellipse cx="687.7" cy="299.1" rx="7.0" ry="9.8" fill="#D7A07E" opacity="0.7"/>
<ellipse cx="664.0" cy="301.9" rx="4.9" ry="12.6" fill="#B47A5C" opacity="0.6"/>
<ellipse cx="677.9" cy="315.2" rx="13.7" ry="7.3" fill="#B37C60"/>
<ellipse cx="668.9" cy="288.0" rx="5.6" ry="1.4" fill="#2e1a14"/>
<ellipse cx="686.6" cy="287.4" rx="5.6" ry="1.4" fill="#2e1a14"/>
<ellipse cx="669.3" cy="291.0" rx="3.6" ry="1.3" fill="#4a2c22"/>
<ellipse cx="686.3" cy="290.5" rx="3.6" ry="1.3" fill="#4a2c22"/>
<ellipse cx="677.9" cy="300.3" rx="3.9" ry="2.8" fill="#B97458"/>
<ellipse cx="677.9" cy="307.5" rx="7.0" ry="1.3" fill="#8C4E40"/>
</g></g>
<text x="659.0" y="110.2" font-size="13.9" fill="#fff" font-weight="bold" stroke="#fff" stroke-width="0.25" text-anchor="middle" textLength="7.0" lengthAdjust="spacingAndGlyphs">9</text>
<text x="626.5" y="130.2" font-size="13.9" fill="#fff" font-weight="bold" stroke="#fff" stroke-width="0.25" text-anchor="middle" textLength="14.0" lengthAdjust="spacingAndGlyphs">12</text>
<text x="734.0" y="161.2" font-size="13.9" fill="#fff" font-weight="bold" stroke="#fff" stroke-width="0.25" text-anchor="middle" textLength="14.0" lengthAdjust="spacingAndGlyphs">43</text>
<text x="639.5" y="205.2" font-size="13.9" fill="#fff" font-weight="bold" stroke="#fff" stroke-width="0.25" text-anchor="middle" textLength="14.0" lengthAdjust="spacingAndGlyphs">36</text>
<text x="657.5" y="248.7" font-size="13.9" fill="#fff" font-weight="bold" stroke="#fff" stroke-width="0.25" text-anchor="middle" textLength="14.0" lengthAdjust="spacingAndGlyphs">11</text>
<text x="621.5" y="279.7" font-size="13.9" fill="#fff" font-weight="bold" stroke="#fff" stroke-width="0.25" text-anchor="middle" textLength="14.0" lengthAdjust="spacingAndGlyphs">14</text>
<text x="736.5" y="302.2" font-size="13.9" fill="#fff" font-weight="bold" stroke="#fff" stroke-width="0.25" text-anchor="middle" textLength="14.0" lengthAdjust="spacingAndGlyphs">43</text>
<text x="649.5" y="350.2" font-size="13.9" fill="#fff" font-weight="bold" stroke="#fff" stroke-width="0.25" text-anchor="middle" textLength="14.0" lengthAdjust="spacingAndGlyphs">32</text>
<rect x="577.7" y="373.0" width="11.5" height="11.0" fill="#3BAE49"/>
<text x="592.5" y="383.7" font-size="13.8" fill="#131313" font-weight="bold" stroke="#131313" stroke-width="0.3" textLength="48.5" lengthAdjust="spacingAndGlyphs">Like him</text>
<rect x="651.6" y="373.0" width="11.5" height="11.0" fill="#EC1C24"/>
<text x="666.7" y="383.7" font-size="13.8" fill="#131313" font-weight="bold" stroke="#131313" stroke-width="0.3" textLength="79.0" lengthAdjust="spacingAndGlyphs">Don’t like him</text>
<rect x="577.7" y="388.0" width="11.5" height="11.0" fill="#FCB316"/>
<text x="592.5" y="398.5" font-size="13.8" fill="#131313" font-weight="bold" stroke="#131313" stroke-width="0.3" textLength="179.5" lengthAdjust="spacingAndGlyphs">Neither like him nor dislike him</text>
<rect x="577.7" y="402.6" width="11.5" height="11.0" fill="#231F20"/>
<text x="592.5" y="413.1" font-size="13.8" fill="#131313" font-weight="bold" stroke="#131313" stroke-width="0.3" textLength="71.0" lengthAdjust="spacingAndGlyphs">No response</text>
<text x="577.7" y="430.4" font-size="12.6" fill="#131313" font-weight="bold" stroke="#131313" stroke-width="0.3" textLength="89.8" lengthAdjust="spacingAndGlyphs">Questions asked:</text>
<text x="671.5" y="430.4" font-size="12.6" fill="#131313" stroke="#131313" stroke-width="0.25" textLength="102.3" lengthAdjust="spacingAndGlyphs">1) Some people like</text>
<text x="577.7" y="443.4" font-size="12.6" fill="#131313" stroke="#131313" stroke-width="0.25" textLength="183.2" lengthAdjust="spacingAndGlyphs">Rahul Gandhi as a leader and some</text>
<text x="577.7" y="456.4" font-size="12.6" fill="#131313" stroke="#131313" stroke-width="0.25" textLength="185.3" lengthAdjust="spacingAndGlyphs">don’t like him. What about you? Do</text>
<text x="577.7" y="469.4" font-size="12.6" fill="#131313" stroke="#131313" stroke-width="0.25" textLength="185.1" lengthAdjust="spacingAndGlyphs">you like Rahul Gandhi or do you not</text>
<text x="577.7" y="482.4" font-size="12.6" fill="#131313" stroke="#131313" stroke-width="0.25" textLength="191.4" lengthAdjust="spacingAndGlyphs">like him? 2) Some people like Naren-</text>
<text x="577.7" y="495.4" font-size="12.6" fill="#131313" stroke="#131313" stroke-width="0.25" textLength="189.5" lengthAdjust="spacingAndGlyphs">dra Modi as a leader and some don’t</text>
<text x="577.7" y="508.3" font-size="12.6" fill="#131313" stroke="#131313" stroke-width="0.25" textLength="176.9" lengthAdjust="spacingAndGlyphs">like him. What about you? Do you</text>
<text x="577.7" y="521.2" font-size="12.6" fill="#131313" stroke="#131313" stroke-width="0.25" textLength="172.2" lengthAdjust="spacingAndGlyphs">like Modi or do you not like him?</text>
<text x="577.7" y="534.1" font-size="12.6" fill="#131313" stroke="#131313" stroke-width="0.25" textLength="137.3" lengthAdjust="spacingAndGlyphs">Figures are in percentage.</text>
<rect x="577.7" y="546.1" width="197.0" height="1.6" fill="#4a4a4a"/>
<rect x="578.1" y="558.1" width="30.0" height="28.7" fill="#231F20"/>
<path d="M593.6 562.8 L600.0 562.8 L600.0 573.1 L602.5 573.1 L602.5 577.1 L600.0 577.1 L600.0 580.0 L592.5 580.0 L592.5 577.1 L584.7 577.1 L584.7 573.5Z M592.9 569.7 L592.9 573.1 L590.0 573.1Z" fill="#fff" fill-rule="evenodd" stroke="#fff" stroke-width="0.5" stroke-linejoin="round"/>
<text x="613.9" y="570.9" font-size="15.6" fill="#131313" font-weight="bold" stroke="#131313" stroke-width="0.3" textLength="109.0" lengthAdjust="spacingAndGlyphs">Rahul has greater</text>
<text x="613.9" y="587.2" font-size="15.6" fill="#131313" font-weight="bold" stroke="#131313" stroke-width="0.3" textLength="160.0" lengthAdjust="spacingAndGlyphs">favourability than Modi in</text>
<text x="577.7" y="603.8" font-size="15.6" fill="#131313" font-weight="bold" stroke="#131313" stroke-width="0.3" textLength="196.0" lengthAdjust="spacingAndGlyphs">the south; elsewhere, Modi still</text>
<text x="577.7" y="620.3" font-size="15.6" fill="#131313" font-weight="bold" stroke="#131313" stroke-width="0.3" textLength="140.6" lengthAdjust="spacingAndGlyphs">has a comfortable lead</text>
<rect x="577.7" y="649.1" width="17.0" height="89.1" fill="#FCB316"/>
<text x="586.2" y="645.7" font-size="13.2" fill="#131313" font-weight="bold" stroke="#131313" stroke-width="0.3" text-anchor="middle" textLength="14.0" lengthAdjust="spacingAndGlyphs">41</text>
<rect x="598.0" y="699.1" width="17.0" height="39.1" fill="#14A8EA"/>
<text x="606.5" y="695.7" font-size="13.2" fill="#131313" font-weight="bold" stroke="#131313" stroke-width="0.3" text-anchor="middle" textLength="14.0" lengthAdjust="spacingAndGlyphs">18</text>
<rect x="631.0" y="655.7" width="17.0" height="82.5" fill="#FCB316"/>
<text x="639.5" y="652.3" font-size="13.2" fill="#131313" font-weight="bold" stroke="#131313" stroke-width="0.3" text-anchor="middle" textLength="14.0" lengthAdjust="spacingAndGlyphs">38</text>
<rect x="651.0" y="677.4" width="17.0" height="60.8" fill="#14A8EA"/>
<text x="659.5" y="674.0" font-size="13.2" fill="#131313" font-weight="bold" stroke="#131313" stroke-width="0.3" text-anchor="middle" textLength="14.0" lengthAdjust="spacingAndGlyphs">28</text>
<rect x="684.0" y="657.8" width="17.0" height="80.4" fill="#FCB316"/>
<text x="692.5" y="654.4" font-size="13.2" fill="#131313" font-weight="bold" stroke="#131313" stroke-width="0.3" text-anchor="middle" textLength="14.0" lengthAdjust="spacingAndGlyphs">37</text>
<rect x="704.0" y="701.3" width="17.0" height="36.9" fill="#14A8EA"/>
<text x="712.5" y="697.9" font-size="13.2" fill="#131313" font-weight="bold" stroke="#131313" stroke-width="0.3" text-anchor="middle" textLength="14.0" lengthAdjust="spacingAndGlyphs">17</text>
<rect x="737.0" y="694.8" width="17.0" height="43.4" fill="#FCB316"/>
<text x="745.5" y="691.4" font-size="13.2" fill="#131313" font-weight="bold" stroke="#131313" stroke-width="0.3" text-anchor="middle" textLength="14.0" lengthAdjust="spacingAndGlyphs">20</text>
<rect x="757.5" y="666.5" width="17.0" height="71.7" fill="#14A8EA"/>
<text x="766.0" y="663.1" font-size="13.2" fill="#131313" font-weight="bold" stroke="#131313" stroke-width="0.3" text-anchor="middle" textLength="14.0" lengthAdjust="spacingAndGlyphs">33</text>
<text x="597.7" y="750.9" font-size="12.8" fill="#131313" stroke="#131313" stroke-width="0.25" text-anchor="middle" textLength="22.0" lengthAdjust="spacingAndGlyphs">East</text>
<text x="597.7" y="763.8" font-size="12.8" fill="#131313" stroke="#131313" stroke-width="0.25" text-anchor="middle" textLength="23.5" lengthAdjust="spacingAndGlyphs">India</text>
<text x="650.5" y="750.9" font-size="12.8" fill="#131313" stroke="#131313" stroke-width="0.25" text-anchor="middle" textLength="45.0" lengthAdjust="spacingAndGlyphs">West and</text>
<text x="650.5" y="763.8" font-size="12.8" fill="#131313" stroke="#131313" stroke-width="0.25" text-anchor="middle" textLength="59.0" lengthAdjust="spacingAndGlyphs">Central India</text>
<text x="702.5" y="750.9" font-size="12.8" fill="#131313" stroke="#131313" stroke-width="0.25" text-anchor="middle" textLength="26.5" lengthAdjust="spacingAndGlyphs">North</text>
<text x="702.5" y="763.8" font-size="12.8" fill="#131313" stroke="#131313" stroke-width="0.25" text-anchor="middle" textLength="23.5" lengthAdjust="spacingAndGlyphs">India</text>
<text x="756.0" y="750.9" font-size="12.8" fill="#131313" stroke="#131313" stroke-width="0.25" text-anchor="middle" textLength="28.5" lengthAdjust="spacingAndGlyphs">South</text>
<text x="756.0" y="763.8" font-size="12.8" fill="#131313" stroke="#131313" stroke-width="0.25" text-anchor="middle" textLength="23.5" lengthAdjust="spacingAndGlyphs">India</text>
<rect x="577.7" y="773.5" width="11.5" height="11.0" fill="#FCB316"/>
<text x="592.5" y="784.2" font-size="13.8" fill="#131313" font-weight="bold" stroke="#131313" stroke-width="0.3" textLength="82.0" lengthAdjust="spacingAndGlyphs">Narendra Modi</text>
<rect x="681.2" y="773.5" width="11.5" height="11.0" fill="#14A8EA"/>
<text x="695.8" y="784.2" font-size="13.8" fill="#131313" font-weight="bold" stroke="#131313" stroke-width="0.3" textLength="73.5" lengthAdjust="spacingAndGlyphs">Rahul Gandhi</text>
<text x="578.2" y="800.6" font-size="12.6" fill="#131313" textLength="138.0" lengthAdjust="spacingAndGlyphs" stroke="#131313" stroke-width="0.5">Figures are in percentage.</text>
<text x="774.6" y="815.0" font-size="11.6" fill="#454545" stroke="#454545" stroke-width="0.25" text-anchor="end" textLength="174.4" lengthAdjust="spacingAndGlyphs">Source: Mood of the Nation Survey</text>
<text x="774.6" y="826.8" font-size="11.6" fill="#454545" stroke="#454545" stroke-width="0.25" text-anchor="end" textLength="195.0" lengthAdjust="spacingAndGlyphs">(May 2018) conducted by Lokniti-CSDS</text>
</svg></body></html>
